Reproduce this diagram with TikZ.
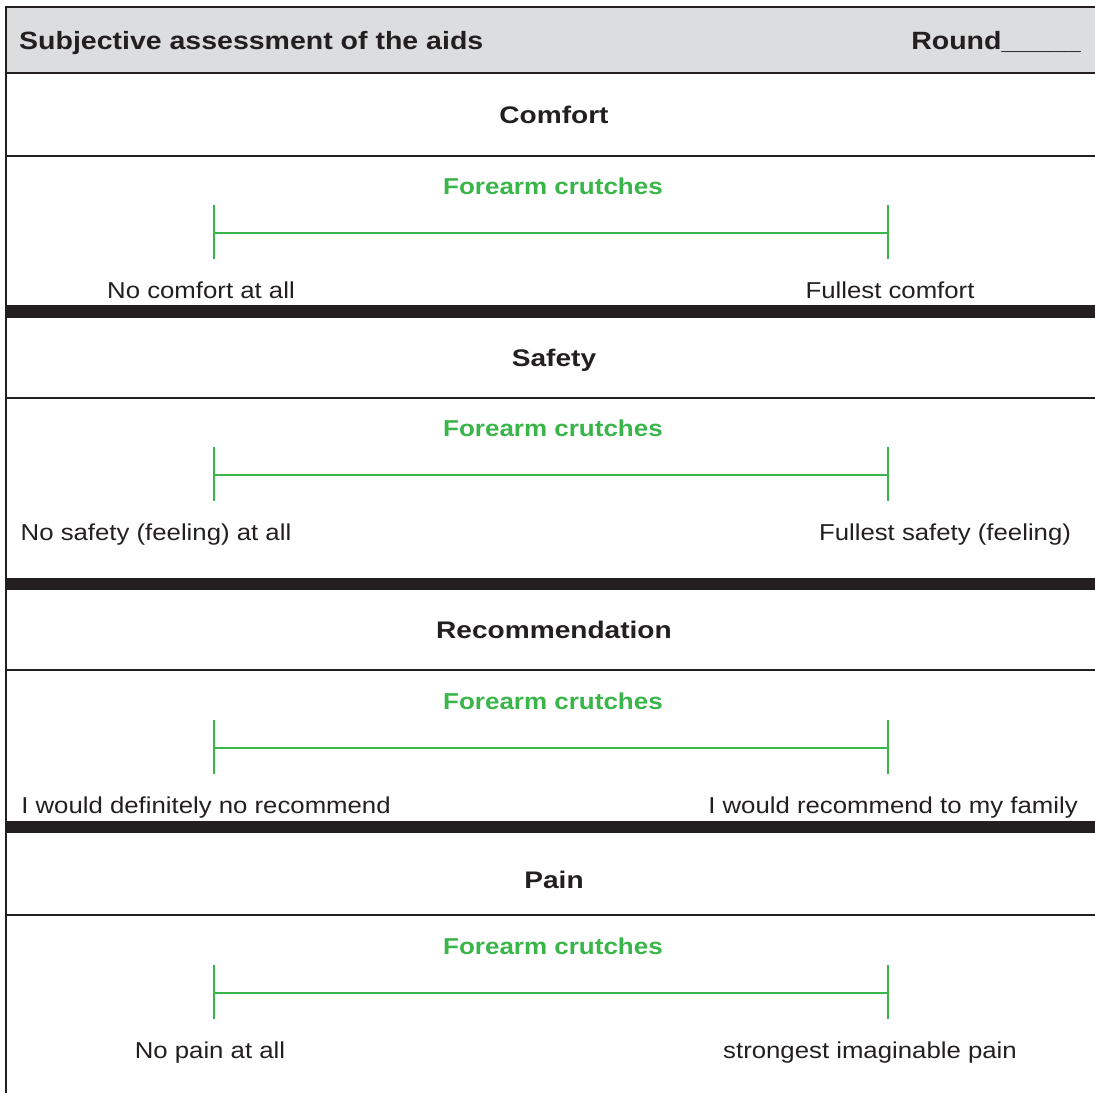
\documentclass[tikz,border=0pt]{standalone}
\usepackage{fontspec}
\setmainfont{Liberation Sans}
\newfontfamily\headfont[FakeStretch=1.14]{Liberation Sans}
\newfontfamily\sectfont[FakeStretch=1.17]{Liberation Sans}
\newfontfamily\aidfont[FakeStretch=1.13]{Liberation Sans}
\newfontfamily\labelfont[FakeStretch=1.12]{Liberation Sans}
\definecolor{ink}{HTML}{231F20}
\definecolor{headgray}{HTML}{DCDDDE}
\definecolor{aidgreen}{HTML}{39B54A}
\tikzset{
  formhead/.style={font=\headfont\bfseries\fontsize{25}{28}\selectfont, text=ink, inner sep=0pt},
  sectionhead/.style={font=\sectfont\bfseries\fontsize{24}{27}\selectfont, text=ink, anchor=base, inner sep=0pt},
  aidname/.style={font=\aidfont\bfseries\fontsize{23}{26}\selectfont, text=aidgreen, anchor=base, inner sep=0pt},
  endlabel/.style={font=\labelfont\fontsize{23}{26}\selectfont, text=ink, anchor=base, inner sep=0pt},
  rule/.style={ink, line width=2pt},
  bar/.style={ink, line width=12.5pt},
  scaleline/.style={aidgreen, line width=2.8pt},
  scaletick/.style={aidgreen, line width=1.7pt},
}
\begin{document}
\begin{tikzpicture}[x=1pt, y=-1pt, line cap=butt]
  \useasboundingbox (0,0) rectangle (1095,1093);
  % header
  \fill[headgray] (6,7) rectangle (1095,73);
  \draw[rule] (1095,7) -- (6,7) -- (6,1093);
  \foreach \y in {73,156,398,670,915}
    \draw[rule] (6,\y) -- (1095,\y);
  \foreach \y in {311.5,584,827}
    \draw[bar] (6,\y) -- (1095,\y);
  \node[formhead, anchor=base west] (title) at (19,49) {Subjective assessment of the aids};
  \node[formhead, anchor=base east] (round) at (1081,49) {Round\_\_\_\_\_};
  % the four rating scales
  \foreach \head/\hy/\sy/\ltext/\lx/\rtext/\rx [count=\k] in {
      Comfort/123/233/No comfort at all/201/Fullest comfort/890,
      Safety/366/475/No safety (feeling) at all/156/Fullest safety (feeling)/945,
      Recommendation/638/748/I would definitely no recommend/206/I would recommend to my family/893,
      Pain/888/993/No pain at all/210/strongest imaginable pain/870}
  {
    \node[sectionhead] (head\k) at (554,\hy) {\head};
    \node[aidname] (aid\k) at (553,\sy-39) {Forearm crutches};
    \coordinate (lo\k) at (214,\sy);
    \coordinate (hi\k) at (888,\sy);
    \draw[scaleline] (lo\k) -- (hi\k);
    \draw[scaletick] ([yshift=-26pt]lo\k) -- ([yshift=28pt]lo\k);
    \draw[scaletick] ([yshift=-26pt]hi\k) -- ([yshift=28pt]hi\k);
    \node[endlabel] (low\k) at (\lx,\sy+65) {\ltext};
    \node[endlabel] (high\k) at (\rx,\sy+65) {\rtext};
  }
\end{tikzpicture}
\end{document}
